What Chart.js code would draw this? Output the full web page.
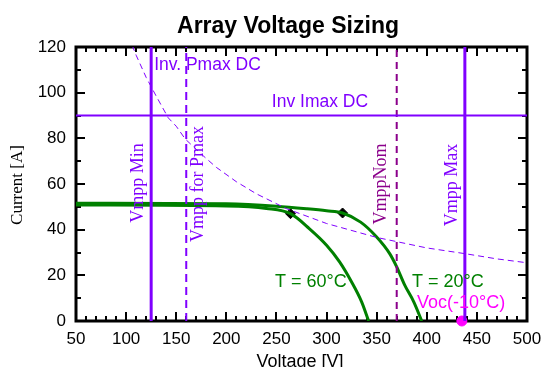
<!DOCTYPE html>
<html>
<head>
<meta charset="utf-8">
<script src="https://cdn.jsdelivr.net/npm/chart.js@4.4.1/dist/chart.umd.min.js"></script>
<style>
  html, body { margin: 0; padding: 0; background: #fff; }
  #wrap { width: 542px; height: 367px; }
</style>
</head>
<body>
<div id="wrap"><canvas id="sizingChart"></canvas></div>
<script>
// axis ticks
const voltTicks = [50, 100, 150, 200, 250, 300, 350, 400, 450, 500];
const currentTicks = [0, 20, 40, 60, 80, 100, 120];

// inverter limits
const invImaxDC = 90;
const vmppMin = 125;
const vmppForPmax = 160;
const vmppNom = 370;
const vmppMax = 438;
const vocMinus10 = 435;

// inverter Pmax DC curve
const pmaxVolt = [106, 110, 120, 130, 142, 150, 159, 175, 190, 210, 230, 260, 300, 350, 400, 438, 470, 500];
const pmaxCurrent = [120.8, 116.4, 106.7, 98.5, 89, 85.3, 79.7, 73.1, 67.3, 61, 55.7, 49.2, 42.7, 36.6, 32, 29.5, 27.2, 25.5];

// array I/V curves
const iv20Volt = [50, 200, 250, 280, 300, 316, 334, 350, 363, 370, 378, 387, 395];
const iv20Current = [51.6, 51.3, 50.3, 49.2, 48.3, 47.3, 43.3, 36.8, 29.5, 23.7, 15.7, 8.4, 0];
const iv60Volt = [50, 200, 240, 264, 283, 300, 313, 325, 335, 342];
const iv60Current = [50.8, 50.4, 49.3, 47, 40.4, 33.2, 25.9, 17.1, 8.4, 0];

// maximum power points
const mppVolt = [264, 316];
const mppCurrent = [47, 47.3];

const violet = "#8000ff";
const green = "#008000";
const nomColor = "#8b008b";
const magenta = "#ff00ff";
const sans = "'Liberation Sans', Arial, sans-serif";
const serif = "'Liberation Serif', 'Times New Roman', serif";

function toPoints(xs, ys) {
  return xs.map((x, i) => ({ x: x, y: ys[i] }));
}
function vLine(v) {
  return [{ x: v, y: currentTicks[0] }, { x: v, y: currentTicks[currentTicks.length - 1] }];
}

const lineBase = { showLine: true, pointRadius: 0, fill: false, tension: 0 };

const datasets = [
  Object.assign({}, lineBase, { label: "Inv. Pmax DC", data: toPoints(pmaxVolt, pmaxCurrent), borderColor: violet, borderWidth: 1, borderDash: [6, 4] }),
  Object.assign({}, lineBase, { label: "Inv Imax DC", data: [{ x: voltTicks[0], y: invImaxDC }, { x: voltTicks[voltTicks.length - 1], y: invImaxDC }], borderColor: violet, borderWidth: 2 }),
  Object.assign({}, lineBase, { label: "Vmpp Min", data: vLine(vmppMin), borderColor: violet, borderWidth: 3 }),
  Object.assign({}, lineBase, { label: "Vmpp for Pmax", data: vLine(vmppForPmax), borderColor: violet, borderWidth: 2, borderDash: [8, 5] }),
  Object.assign({}, lineBase, { label: "VmppNom", data: vLine(vmppNom), borderColor: nomColor, borderWidth: 2, borderDash: [7, 5] }),
  Object.assign({}, lineBase, { label: "Vmpp Max", data: vLine(vmppMax), borderColor: violet, borderWidth: 3 }),
  Object.assign({}, lineBase, { label: "T = 60°C", data: toPoints(iv60Volt, iv60Current), borderColor: green, borderWidth: 3, cubicInterpolationMode: "monotone" }),
  Object.assign({}, lineBase, { label: "T = 20°C", data: toPoints(iv20Volt, iv20Current), borderColor: green, borderWidth: 3, cubicInterpolationMode: "monotone" }),
  { label: "MPP", data: toPoints(mppVolt, mppCurrent), showLine: false, pointStyle: "rectRot", pointRadius: 5, backgroundColor: "#000", borderColor: "#000", clip: false },
  { label: "Voc(-10°C)", data: [{ x: vocMinus10, y: 0 }], showLine: false, pointStyle: "circle", pointRadius: 5, backgroundColor: magenta, borderColor: magenta, clip: false }
];

// frame, inward ticks, title and text labels
const framePlugin = {
  id: "frame",
  beforeDatasetsDraw(chart) {
    const ctx = chart.ctx;
    const a = chart.chartArea;
    const xs = chart.scales.x;
    const ys = chart.scales.y;
    ctx.save();

    ctx.fillStyle = "#000";
    ctx.textAlign = "center";
    ctx.textBaseline = "alphabetic";
    ctx.font = "bold 23px " + sans;
    ctx.fillText("Array Voltage Sizing", 288, 33);

    ctx.font = "18px " + sans;
    ctx.fillText("Voltage [V]", 300, 367);

    ctx.save();
    ctx.translate(18, 185);
    ctx.rotate(-Math.PI / 2);
    ctx.textBaseline = "middle";
    ctx.font = "17px " + serif;
    ctx.fillText("Current [A]", 0, 0);
    ctx.restore();

    ctx.strokeStyle = "#000";
    ctx.lineWidth = 2;
    ctx.beginPath();
    for (let v = xs.min; v <= xs.max; v += 10) {
      const px = Math.round(xs.getPixelForValue(v));
      const len = v % 50 === 0 ? 9 : 5;
      ctx.moveTo(px, a.bottom); ctx.lineTo(px, a.bottom - len);
      ctx.moveTo(px, a.top); ctx.lineTo(px, a.top + len);
    }
    for (let v = ys.min; v <= ys.max; v += 10) {
      const py = Math.round(ys.getPixelForValue(v));
      const len = v % 20 === 0 ? 9 : 5;
      ctx.moveTo(a.left, py); ctx.lineTo(a.left + len, py);
      ctx.moveTo(a.right, py); ctx.lineTo(a.right - len, py);
    }
    ctx.stroke();

    ctx.lineWidth = 3;
    ctx.strokeRect(a.left, a.top, a.right - a.left, a.bottom - a.top);
    ctx.restore();
  },
  afterDatasetsDraw(chart) {
    const ctx = chart.ctx;
    const xs = chart.scales.x;
    const ys = chart.scales.y;
    ctx.save();

    function rotated(text, v, dx, cy, color) {
      ctx.save();
      ctx.translate(xs.getPixelForValue(v) + dx, cy);
      ctx.rotate(-Math.PI / 2);
      ctx.fillStyle = color;
      ctx.font = "18px " + serif;
      ctx.textAlign = "center";
      ctx.textBaseline = "middle";
      ctx.fillText(text, 0, 0);
      ctx.restore();
    }
    rotated("Vmpp Min", vmppMin, -13, 183, violet);
    rotated("Vmpp for Pmax", vmppForPmax, 12, 184, violet);
    rotated("VmppNom", vmppNom, -15, 184, nomColor);
    rotated("Vmpp Max", vmppMax, -13, 185, violet);

    ctx.textBaseline = "middle";
    ctx.textAlign = "left";
    ctx.font = "17.5px " + sans;
    ctx.fillStyle = violet;
    ctx.fillText("Inv. Pmax DC", xs.getPixelForValue(vmppMin) + 3, 65);
    ctx.textAlign = "center";
    ctx.fillText("Inv Imax DC", 320, ys.getPixelForValue(invImaxDC) - 13);

    ctx.textAlign = "left";
    ctx.font = "18px " + sans;
    ctx.fillStyle = green;
    ctx.fillText("T = 60°C", 275, 282);
    ctx.fillText("T = 20°C", 412, 282);
    ctx.fillStyle = magenta;
    ctx.fillText("Voc(-10°C)", 417, 303);
    ctx.restore();
  }
};

const ctx = document.getElementById("sizingChart").getContext("2d");

const sizingChart = new Chart(ctx, {
  type: "scatter",
  data: { datasets: datasets },
  options: {
    responsive: true,
    maintainAspectRatio: false,
    animation: false,
    devicePixelRatio: 1,
    layout: { padding: { top: 47, right: 15, left: 0, bottom: 0 } },
    scales: {
      x: {
        type: "linear",
        min: voltTicks[0],
        max: voltTicks[voltTicks.length - 1],
        afterBuildTicks: (s) => { s.ticks = voltTicks.map((v) => ({ value: v })); },
        afterFit: (s) => { s.height = 46; s.paddingLeft = 0; s.paddingRight = 0; },
        ticks: { padding: 8, color: "#000", font: { family: sans, size: 17 } },
        grid: { display: false, drawTicks: false },
        border: { display: false }
      },
      y: {
        type: "linear",
        min: currentTicks[0],
        max: currentTicks[currentTicks.length - 1],
        afterBuildTicks: (s) => { s.ticks = currentTicks.map((v) => ({ value: v })); },
        afterFit: (s) => { s.width = 76; s.paddingTop = 0; s.paddingBottom = 0; },
        ticks: { padding: 10, color: "#000", font: { family: sans, size: 17 } },
        grid: { display: false, drawTicks: false },
        border: { display: false }
      }
    },
    plugins: {
      legend: { display: false },
      title: { display: false },
      tooltip: { enabled: false }
    }
  },
  plugins: [framePlugin]
});
</script>
</body>
</html>
